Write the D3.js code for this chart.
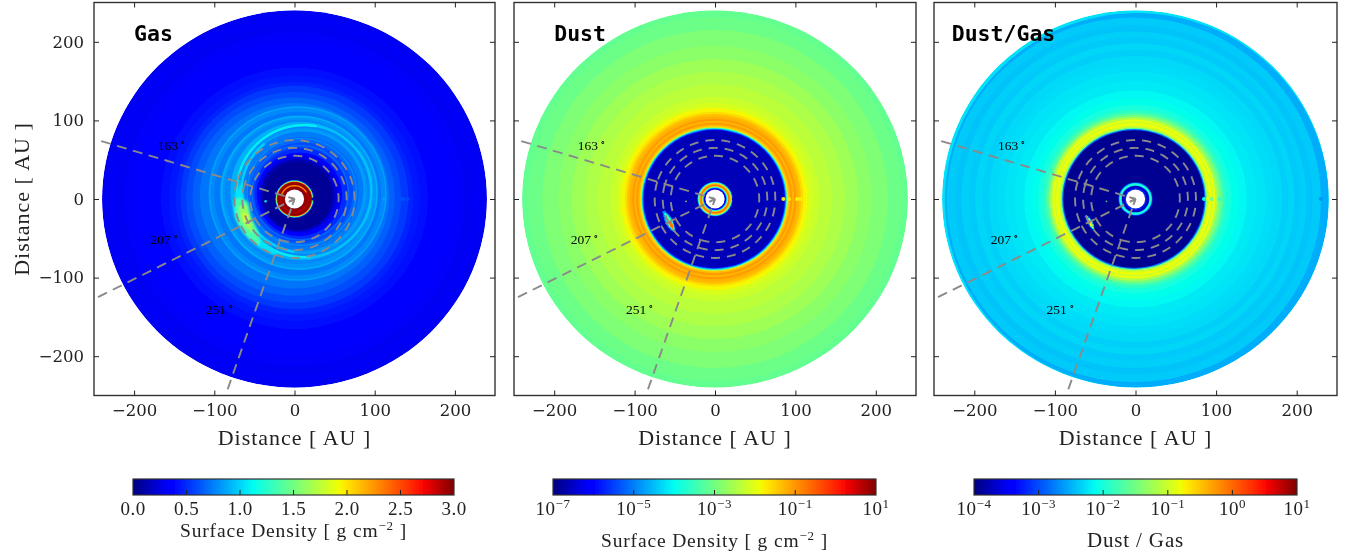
<!DOCTYPE html>
<html><head><meta charset="utf-8">
<style>
html,body{margin:0;padding:0;background:#fff;overflow:hidden}
svg{display:block}
.tick text{font-family:"DejaVu Serif",serif;font-size:16.5px;fill:#222}
</style>
<script src="https://cdn.jsdelivr.net/npm/d3@7"></script>
</head><body>
<svg id="fig" width="1348" height="558"></svg>
<script>
// ---------- tick labels / names ----------
const axisTicks = [-200,-100,0,100,200];
const panelNames = ["Gas","Dust","Dust/Gas"];
const spokeAngles = [163,207,251];
const spokeLengths = [252,275,256];
const arcRadii = [55,65,75];
const angleLabelX = [-153,-162,-93];
const angleLabelY = [68,-51,-140];

// ---------- jet colormap ----------
const jetStops = [0,0.11,0.125,0.35,0.375,0.64,0.66,0.89,0.91,1];
const jetColors = ["#00007f","#0000ff","#0000ff","#00e4f8","#00fff0","#f0ff06","#ffea00","#ff1300","#f40000","#7f0000"];

// ---------- gas: radial profile (AU, g cm^-2) ----------
const gasR  = [240,232,222,212,200,190,178,166,156,148,142,134,126,118,110,104,98,92,88,84,80,76,70,64,58,53,49,46,43,24,23.4,22.9,22.3,21.6,19,17.6,16.4,15,12];
const gasV  = [0.30,0.31,0.30,0.32,0.34,0.37,0.39,0.42,0.45,0.48,0.54,0.60,0.66,0.72,0.78,0.73,0.82,0.78,0.90,0.78,0.85,0.74,0.68,0.60,0.50,0.36,0.24,0.12,0.06,0.65,1.1,1.7,2.4,2.95,2.95,2.85,2.95,2.95,0.0];
const gasDx = [0,0,0,0,0,0,0,0,0,0,0,-1,-1,0,3,4,5,5,8,10,10,10,10,9,8,6,5,4,4,0,0,0,0,0,0,0,0,0,0];
const gasDy = [0,0,0,0,0,0,0,1,1,1,2,2,3,4,7,7,8,9,10,10,10,10,9,8,7,6,6,5,4,0,0,0,0,0,0,0,0,0,0];
// bright eccentric filaments in the gas
const gasRingR  = [110,97,84,78,68,60];
const gasRingDx = [4,6,12,11,9,7];
const gasRingDy = [7,8,10,11,9,8];
const gasRingV  = [0.85,0.90,0.95,0.82,0.80,0.70];
const gasRingW  = [1.6,1.6,2.4,1.4,1.2,1.2];
// brighter stretches of those filaments on the crescent side
const gasArcR = [84,78];
const gasArcFrom = [80,130];
const gasArcTo = [275,260];
const gasArcV = [1.08,1.0];
// crescent over-density in the gas: nested outlines (AU)
const crescentOuterX = [-67,-75.6,-74.8,-65,-50.7,-34,-19.5,-38,-50.7,-59,-63];
const crescentOuterY = [21,-1.9,-23,-42,-57,-68,-70.6,-55,-38,-19,0.2];
const crescentMidX = [-73,-73,-61,-44,-45,-54,-59];
const crescentMidY = [0,-25,-46,-58,-42,-23,-3];
const crescentCoreX = [-69,-66,-54,-51,-56,-60];
const crescentCoreY = [-10,-30,-42,-36,-20,-8];
const crescentPeakX = [-65,-62,-57,-59];
const crescentPeakY = [-18,-30,-33,-20];
const crescentV = [1.05,1.35,1.6,1.85];

// ---------- dust: radial profile (AU, g cm^-2) ----------
const dustR  = [240,232,215,195,178,162,146,130,122,116,111,108,105,102,99.5,97,94.5,92.5,91,90,89,88,87,22,21.3,20.6,19.6,18.4,17.4,16.6,15.8,15,14,12];
const dustV  = [7.6e-4,9e-4,1.3e-3,1.7e-3,2.5e-3,3.4e-3,4.5e-3,6e-3,8e-3,1.5e-2,2.5e-2,4.5e-2,6e-2,9e-2,5.5e-2,9e-2,5e-2,2.5e-2,1e-3,5e-5,6e-6,6e-7,2.5e-7,6e-6,8e-5,2e-3,5e-2,1.5e-1,2.5e-1,4e-2,1e-3,5e-5,1e-6,1e-7];
const dustDx = [0,0,0,0,0,0,0,0,0,-1,-1,-1,-1,-1,-1,-1,-1,-1,-1,-1,-1,-1,-1,0,0,0,0,0,0,0,0,0,0,0];
const dustBlobX = [-63,-61,-59,-57,-55,-53,-51, -62,-60,-58,-56,-54,-52, -61,-59, -57,-55,-53, -55.5,-54,-53];
const dustBlobY = [-17,-21,-25,-29,-33,-37,-40, -19,-22,-26,-30,-34,-38, -21,-24, -29,-33,-37, -31,-34,-37];
const dustBlobS = [2.5,3.5,4.5,5,4.5,3.5,2, 1.6,2.6,3.5,3.8,3.2,2, 1.2,1.6, 3,2.8,1.8, 2.2,2.2,1.3];
const dustBlobV = [1e-5,1e-5,1e-5,1e-5,1e-5,1e-5,1e-5, 1e-4,1e-4,1e-4,1e-4,1e-4,1e-4, 2e-3,2e-3, 2e-2,2e-2,2e-2, 2e-1,2e-1,2e-1];

// ---------- dust / gas: radial profile ----------
const ratioR  = [240,238,232,222,214,206,198,190,182,172,162,150,138,128,120,114,110,107,104,101,98.5,96.5,94.5,92.5,90.5,89,87.5,21.2,20.4,19.4,18,17,13.8,12];
const ratioV  = [5.5e-3,3e-3,4.2e-3,3.9e-3,4.5e-3,4.2e-3,4.8e-3,4.5e-3,5e-3,5.2e-3,5.6e-3,6e-3,7e-3,8e-3,9.5e-3,1.3e-2,2e-2,3.5e-2,7e-2,1.5e-1,1e-1,1.6e-1,1.3e-1,9e-2,2.4e-2,1.5e-3,1.2e-4,1e-3,6e-3,1.3e-2,7e-3,2e-4,6e-4,1e-4];
const ratioDx = [0,1.5,-2,-2,-2,-1,-1,0,0,0,0,0,0,0,-1,-1,-1,-1,-2,-2,-2,-2,-2,-2,-2,-2,-2,0,0,0,0,0,0,0];
const ratioDy = [0,-1.5,-1,-1,-1,0,0,0,0,0,0,0,0,0,0,0,0,0,0,0,0,0,0,0,0,0,0,0,0,0,0,0,0,0];
const ratioBlobX = [-61,-59,-57,-55,-53, -60,-58,-56,-54,-52.5, -58,-56.5,-55,-53.5];
const ratioBlobY = [-22,-25,-29,-33,-37, -23,-26,-30,-34,-37, -27,-30,-33,-36];
const ratioBlobS = [2,3,3.6,3.2,2, 1.4,2.2,2.8,2.4,1.4, 1.4,2,1.8,1];
const ratioBlobV = [1e-3,1e-3,1e-3,1e-3,1e-3, 1e-2,1e-2,1e-2,1e-2,1e-2, 1.6e-1,1.8e-1,1.8e-1,1.6e-1];

// ---------- seam marks along y=0 ----------
const gasSeamX = [87,99,112,135,141];
const gasSeamV = [0.85,0.85,0.85,0.62,0.58];
const dustSeamX = [85,92,102,106];
const dustSeamV = [2e-2,2e-2,1.6e-2,1.6e-2];
const ratioSeamX = [85,90,94,104,230];
const ratioSeamV = [8e-3,1.5e-1,3e-2,1.6e-2,2.2e-3];
const spotX = -36, spotY = -3;

// ---------- colour bars ----------
const gasCbTicks = [0,0.5,1,1.5,2,2.5,3];
const dustCbTicks = [1e-7,1e-5,1e-3,1e-1,1e1];
const ratioCbTicks = [1e-4,1e-3,1e-2,1e-1,1e0,1e1];
const dustCbExp = ["−7","−5","−3","−1","1"];
const ratioCbExp = ["−4","−3","−2","−1","0","1"];

const root = d3.select("#fig");
const defs = root.append("defs");
const jet = d3.scaleLinear().domain(jetStops).range(jetColors).interpolate(d3.interpolateRgb).clamp(true);
const gasNorm = d3.scaleLinear().domain([0,3]).range([0,1]).clamp(true);
const dustNorm = d3.scaleLog().domain([1e-7,10]).range([0,1]).clamp(true);
const ratioNorm = d3.scaleLog().domain([1e-4,10]).range([0,1]).clamp(true);

function blur(id,s){defs.append("filter").attr("id",id).attr("x","-30%").attr("y","-30%").attr("width","160%").attr("height","160%")
  .append("feGaussianBlur").attr("stdDeviation",s);}
blur("soft",0.5); blur("soft2",1.0); blur("soft3",0.7);
defs.append("filter").attr("id","page").attr("filterUnits","userSpaceOnUse").attr("x",0).attr("y",0).attr("width",1348).attr("height",558)
  .append("feGaussianBlur").attr("stdDeviation",0.32);
const svg = root.append("g").attr("filter","url(#page)");
svg.append("rect").attr("width",1348).attr("height",558).attr("fill","#fff");
const g0 = defs.append("linearGradient").attr("id","jetgrad");
jetStops.forEach((s,i)=>g0.append("stop").attr("offset",s).attr("stop-color",jetColors[i]));

const panels = [
 {name:panelNames[0],x0:94,x1:495,R:gasR,V:gasV,Dx:gasDx,Dy:gasDy,norm:gasNorm,titleX:-200,seamX:gasSeamX,seamV:gasSeamV},
 {name:panelNames[1],x0:514,x1:916,R:dustR,V:dustV,Dx:dustDx,Dy:null,norm:dustNorm,titleX:-200,seamX:dustSeamX,seamV:dustSeamV,
  bx:dustBlobX,by:dustBlobY,bs:dustBlobS,bv:dustBlobV},
 {name:panelNames[2],x0:934,x1:1337,R:ratioR,V:ratioV,Dx:ratioDx,Dy:ratioDy,norm:ratioNorm,titleX:-228,seamX:ratioSeamX,seamV:ratioSeamV,
  bx:ratioBlobX,by:ratioBlobY,bs:ratioBlobS,bv:ratioBlobV}
];
const ink = "#222";

panels.forEach((p,pi)=>{
  const x = d3.scaleLinear().domain([-250,250]).range([p.x0,p.x1]);
  const y = d3.scaleLinear().domain([-250,250]).range([395.5,2.5]);
  const colour = v => jet(p.norm(v));
  const line = d3.line().x(d=>x(d[0])).y(d=>y(d[1]));
  const polar = (r,a)=>[r*Math.cos(a*Math.PI/180),r*Math.sin(a*Math.PI/180)];
  const g = svg.append("g");
  const clipId = "disk"+pi;
  defs.append("clipPath").attr("id",clipId).append("ellipse")
    .attr("cx",x(0)).attr("cy",y(0)).attr("rx",x(240)-x(0)).attr("ry",y(0)-y(240));

  const disk = g.append("g").attr("clip-path",`url(#${clipId})`).append("g").attr("filter","url(#soft)");
  const rows = p.R.map((r,i)=>({r,v:p.V[i],dx:p.Dx?p.Dx[i]:0,dy:p.Dy?p.Dy[i]:0}));
  disk.selectAll("ellipse.band").data(rows).join("ellipse").attr("class","band")
    .attr("cx",d=>x(d.dx)).attr("cy",d=>y(d.dy))
    .attr("rx",d=>x(d.r)-x(0)).attr("ry",d=>y(0)-y(d.r))
    .attr("fill",d=>colour(d.v));

  if(pi===0){
    const rg = disk.append("g").attr("filter","url(#soft3)");
    rg.selectAll("ellipse").data(gasRingR.map((r,i)=>({r,dx:gasRingDx[i],dy:gasRingDy[i],v:gasRingV[i],w:gasRingW[i]})))
      .join("ellipse").attr("cx",d=>x(d.dx)).attr("cy",d=>y(d.dy))
      .attr("rx",d=>x(d.r)-x(0)).attr("ry",d=>y(0)-y(d.r))
      .attr("fill","none").attr("stroke",d=>colour(d.v)).attr("stroke-width",d=>d.w);
    rg.selectAll("path").data(gasArcR.map((r,i)=>({r,a:gasArcFrom[i],b:gasArcTo[i],v:gasArcV[i]})))
      .join("path").attr("d",d=>line(d3.range(d.a,d.b+0.1,2).map(t=>{const q=polar(d.r,t);return [q[0]+12,q[1]+10];})))
      .attr("fill","none").attr("stroke",d=>colour(d.v)).attr("stroke-width",2.4).attr("stroke-linecap","round");
    const cav = rows.filter(d=>d.r<=53);
    disk.append("g").selectAll("ellipse").data(cav).join("ellipse")
      .attr("cx",d=>x(d.dx)).attr("cy",d=>y(d.dy))
      .attr("rx",d=>x(d.r)-x(0)).attr("ry",d=>y(0)-y(d.r)).attr("fill",d=>colour(d.v));
    const shapes = [[crescentOuterX,crescentOuterY],[crescentMidX,crescentMidY],[crescentCoreX,crescentCoreY],[crescentPeakX,crescentPeakY]];
    const outline = d3.line().x(d=>x(d[0])).y(d=>y(d[1])).curve(d3.curveCardinalClosed.tension(0.3));
    const cres = g.append("g").attr("filter","url(#soft2)");
    cres.selectAll("path").data(shapes).join("path")
      .attr("d",d=>outline(d[0].map((v,i)=>[v,d[1][i]])))
      .attr("fill",(d,i)=>colour(crescentV[i]));
    g.append("circle").attr("cx",x(spotX)).attr("cy",y(spotY)).attr("r",1.3).attr("fill",colour(1.0));
    const arcG = d3.line().x(a=>x(17*Math.cos(a*Math.PI/180))).y(a=>y(17*Math.sin(a*Math.PI/180)));
    g.append("path").attr("d",arcG(d3.range(30,165,5))).attr("fill","none").attr("stroke",colour(2.3)).attr("stroke-width",1.4).attr("filter","url(#soft)");
  } else {
    const bl = g.append("g").attr("filter","url(#soft)");
    bl.selectAll("ellipse").data(p.bx.map((bx,i)=>({bx,by:p.by[i],s:p.bs[i],v:p.bv[i]})))
      .join("ellipse").attr("cx",d=>x(d.bx)).attr("cy",d=>y(d.by))
      .attr("rx",d=>x(d.s)-x(0)).attr("ry",d=>y(0)-y(d.s)).attr("fill",d=>colour(d.v));
    g.append("circle").attr("cx",x(spotX)).attr("cy",y(spotY)).attr("r",0.9).attr("fill",colour(pi===1?5e-3:3e-2)).attr("opacity",0.8);
  }
  // notch on the inner ring + seam marks
  g.append("circle").attr("cx",x(23)).attr("cy",y(0)).attr("r",1.6).attr("fill",jet(0.04)).attr("filter","url(#soft)");
  g.selectAll("circle.seam").data(p.seamX.map((sx,i)=>({sx,v:p.seamV[i]}))).join("circle").attr("class","seam")
    .attr("cx",d=>x(d.sx)).attr("cy",y(0)).attr("r",2).attr("fill",d=>colour(d.v)).attr("filter","url(#soft)");

  // white central hole
  g.append("ellipse").attr("cx",x(0)).attr("cy",y(0)).attr("rx",x(12)-x(0)).attr("ry",y(0)-y(12)).attr("fill","#fff");

  // dashed guides
  const gray = "#8a8a8a";
  const guide = g.append("g").attr("fill","none").attr("stroke",gray).attr("stroke-width",1.9);
  spokeAngles.forEach((a,i)=>{
    guide.append("path").attr("d",line([polar(spokeLengths[i],a),polar(0,a)])).attr("stroke-dasharray","10 6.5");
  });
  arcRadii.forEach((r,ri)=>{
    const starts = ri===1 ? [[163,523]] : [[163,207],[207,251],[251,523]];
    starts.forEach(([a,b])=>{
      const pts = d3.range(a,b+0.1,1).map(t=>polar(r,t));
      guide.append("path").attr("d",line(pts)).attr("stroke-dasharray","9 7");
    });
  });
  spokeAngles.forEach(a=>{
    guide.append("path").attr("d",line([polar(8,a),polar(0,0)]));
  });

  // angle labels
  spokeAngles.forEach((a,i)=>{
    const t = g.append("text").attr("x",x(angleLabelX[i])).attr("y",y(angleLabelY[i])+4.5)
      .attr("text-anchor","middle").attr("font-family","'Liberation Serif',serif").attr("font-size",13.5).attr("fill","#000");
    t.append("tspan").text(a);
    t.append("tspan").attr("dy",-4).attr("dx",2).attr("font-size",9).text("∘");
  });

  // frame + axes
  g.append("rect").attr("x",p.x0).attr("y",y(250)).attr("width",p.x1-p.x0).attr("height",y(-250)-y(250))
    .attr("fill","none").attr("stroke","#333").attr("stroke-width",1.4);
  const fmt = d=>d<0?"−"+Math.abs(d):String(d);
  const ax = g.append("g").attr("transform",`translate(0,${y(-250)})`)
    .call(d3.axisBottom(x).tickValues(axisTicks).tickSize(-5).tickPadding(9).tickFormat(fmt));
  const axT = g.append("g").attr("transform",`translate(0,${y(250)})`)
    .call(d3.axisTop(x).tickValues(axisTicks).tickSize(-5).tickFormat(""));
  const axR = g.append("g").attr("transform",`translate(${p.x1},0)`)
    .call(d3.axisRight(y).tickValues(axisTicks).tickSize(-5).tickFormat(""));
  const axL = g.append("g").attr("transform",`translate(${p.x0},0)`)
    .call(d3.axisLeft(y).tickValues(axisTicks).tickSize(-5).tickPadding(10).tickFormat(fmt));
  [ax,axT,axR,axL].forEach(a=>{a.select(".domain").remove();a.selectAll("line").attr("stroke","#222").attr("stroke-width",1);});
  if(pi>0) axL.selectAll("text").remove();

  // axis titles
  g.append("text").attr("x",x(0)).attr("y",444.5).attr("text-anchor","middle")
    .attr("font-family","'Liberation Serif',serif").attr("font-size",22).attr("letter-spacing",1).attr("fill",ink).text("Distance [ AU ]");
  if(pi===0) g.append("text").attr("transform",`translate(29,${y(0)}) rotate(-90)`).attr("text-anchor","middle")
    .attr("font-family","'Liberation Serif',serif").attr("font-size",22).attr("letter-spacing",1).attr("fill",ink).text("Distance [ AU ]");

  // panel title
  g.append("text").attr("x",x(p.titleX)).attr("y",41).attr("font-family","'DejaVu Sans Mono',monospace").attr("font-weight","bold")
    .attr("font-size",21.5).attr("fill","#000").text(p.name);
});

// colour bars
function colourbar(x0,x1,scale,ticks,labelFn,title,titleY,titleSize){
  const yTop=479, yBot=495;
  const g = svg.append("g");
  g.append("rect").attr("x",x0).attr("y",yTop).attr("width",x1-x0).attr("height",yBot-yTop).attr("fill","url(#jetgrad)");
  const cb = scale.copy().range([x0,x1]);
  g.selectAll("line.t").data(ticks.slice(1,-1)).join("line").attr("class","t")
    .attr("x1",d=>cb(d)).attr("x2",d=>cb(d)).attr("y1",yBot).attr("y2",yBot-5).attr("stroke","#222");
  g.append("rect").attr("x",x0).attr("y",yTop).attr("width",x1-x0).attr("height",yBot-yTop).attr("fill","none").attr("stroke","#333").attr("stroke-width",1.2);
  ticks.forEach((t,i)=>{
    const tx = g.append("text").attr("x",cb(t)).attr("y",515).attr("text-anchor","middle")
      .attr("font-family","'Liberation Serif',serif").attr("font-size",19).attr("letter-spacing",.5).attr("fill",ink);
    labelFn(tx,t,i);
  });
  const tt = g.append("text").attr("x",(x0+x1)/2).attr("y",titleY).attr("text-anchor","middle")
    .attr("font-family","'Liberation Serif',serif").attr("font-size",titleSize).attr("letter-spacing",.85).attr("fill",ink);
  title(tt);
}
const sdTitle = t=>{t.append("tspan").text("Surface Density [ g cm");t.append("tspan").attr("dy",-7).attr("font-size",13).text("−2");t.append("tspan").attr("dy",7).text(" ]");};
const powLabel = exps => (t,v,i)=>{t.append("tspan").text("10");t.append("tspan").attr("dy",-7).attr("font-size",13).text(exps[i]);};
colourbar(133,454,d3.scaleLinear().domain([0,3]),gasCbTicks,(t,v)=>t.text(v.toFixed(1)),sdTitle,537,19.5);
colourbar(553,876,d3.scaleLog().domain([1e-7,10]),dustCbTicks,powLabel(dustCbExp),sdTitle,547,19.5);
colourbar(974,1297,d3.scaleLog().domain([1e-4,10]),ratioCbTicks,powLabel(ratioCbExp),t=>t.text("Dust / Gas"),547,21);
</script>
</body></html>
